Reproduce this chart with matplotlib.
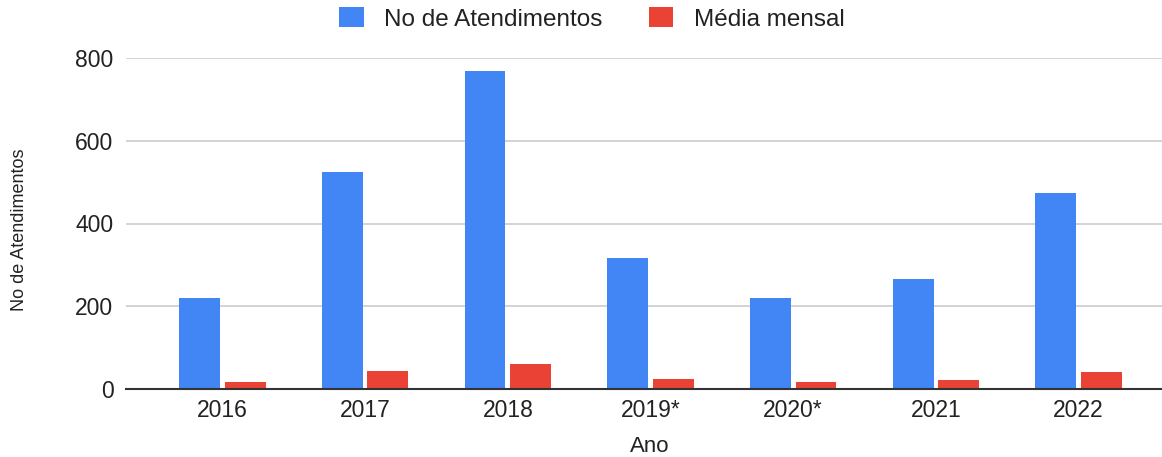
import numpy as np
import matplotlib
matplotlib.use('Agg')
import matplotlib.pyplot as plt

# dados
anos = ['2016', '2017', '2018', '2019*', '2020*', '2021', '2022']
atendimentos = [220, 524, 768, 316, 220, 266, 473]
media_mensal = [18, 44, 61, 25, 18, 22, 40]

plt.rcParams['font.family'] = ['Liberation Sans', 'DejaVu Sans']

fig = plt.figure(figsize=(11.62, 4.57), dpi=100)
ax = fig.add_axes([126 / 1162, 68 / 457, 1049 / 1162, 331 / 457])

x = np.arange(len(anos))
w = 0.287
off = 0.16
ax.bar(x - off, atendimentos, w, color='#4285F4', label='No de Atendimentos', zorder=3)
ax.bar(x + off, media_mensal, w, color='#EA4335', label='Média mensal', zorder=3)

ax.set_xlim(-0.676, 6.676)
ax.set_ylim(0, 800)
ax.set_yticks([0, 200, 400, 600, 800])
ax.set_xticks(x)
ax.set_xticklabels(anos)
ax.tick_params(axis='both', length=0, labelsize=16.5, colors='#222222')
ax.tick_params(axis='y', pad=9)
ax.tick_params(axis='x', pad=7)
ax.grid(axis='y', color='#cccccc', linewidth=1.2, zorder=0)
for s in ['top', 'right', 'left']:
    ax.spines[s].set_visible(False)
ax.spines['bottom'].set_color('#333333')
ax.spines['bottom'].set_linewidth(1.5)
ax.spines['bottom'].set_zorder(4)

fig.text(650 / 1162, 1 - 446 / 457, 'Ano', ha='center', va='center', fontsize=16, color='#222222')
fig.text(20 / 1162, 1 - 230 / 457, 'No de Atendimentos', rotation=90, va='center', ha='center',
         fontsize=13, color='#222222')

fig.legend(loc='center', bbox_to_anchor=(592 / 1162, 1 - 19 / 457), ncol=2, frameon=False,
           fontsize=17.5, handlelength=1.0, handleheight=0.9, columnspacing=1.9, handletextpad=0.85,
           labelcolor='#222222')

plt.savefig('out.png', dpi=100)
